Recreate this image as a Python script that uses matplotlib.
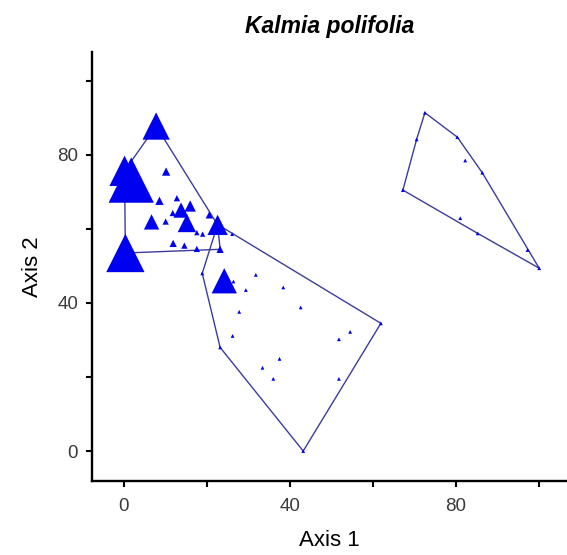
import numpy as np
import matplotlib.pyplot as plt

plt.rcParams['font.family'] = ['Liberation Sans', 'DejaVu Sans']

# Group 1 (upper left cluster): ordination scores and Kalmia cover
g1_x = [7.8, 0.2, 1.8, 0.4, 10.2, 8.6, 12.8, 11.8, 13.8, 16.0, 15.2,
        6.7, 10.1, 20.6, 22.6, 17.6, 19.0, 11.9, 14.6, 17.6, 23.2]
g1_y = [87.8, 75.7, 73.2, 53.5, 75.5, 67.6, 68.3, 64.3, 65.1, 66.2, 61.6,
        61.9, 62.0, 63.8, 61.1, 59.0, 58.6, 56.1, 55.5, 54.6, 54.5]
g1_cover = [23.5, 26.5, 41.5, 34.5, 4.5, 4.5, 2.5, 2.5, 11.5, 7.5, 14.5,
            11.5, 2.5, 3.5, 16.5, 1.5, 1.5, 3.5, 2.5, 2.5, 3.5]

# Group 2 (middle)
g2_x = [22.6, 26.1, 18.9, 24.2, 26.4, 31.8, 29.4, 38.4, 42.6, 27.8,
        26.2, 23.2, 54.5, 51.8, 61.9, 37.5, 33.4, 36.0, 51.8, 43.2]
g2_y = [61.2, 58.6, 48.0, 46.0, 45.8, 47.6, 43.5, 44.2, 38.8, 37.6,
        31.1, 28.0, 32.2, 30.2, 34.5, 24.9, 22.5, 19.5, 19.5, 0.0]
g2_cover = [0, 0, 0, 21.5, 0, 0, 0, 0, 0, 0,
            0, 0, 0, 0, 0, 0, 0, 0, 0, 0]

# Group 3 (right)
g3_x = [72.5, 70.5, 80.3, 82.2, 86.3, 67.2, 81.0, 85.2, 97.2, 100.0]
g3_y = [91.4, 84.2, 84.8, 78.5, 75.2, 70.5, 62.9, 58.8, 54.3, 49.4]
g3_cover = [0, 0, 0, 0, 0, 0, 0, 0, 0, 0]

groups = [(g1_x, g1_y, g1_cover), (g2_x, g2_y, g2_cover), (g3_x, g3_y, g3_cover)]


def convex_hull(xs, ys):
    pts = sorted(set(zip(xs, ys)))

    def cross(o, a, b):
        return (a[0] - o[0]) * (b[1] - o[1]) - (a[1] - o[1]) * (b[0] - o[0])

    lower, upper = [], []
    for p in pts:
        while len(lower) >= 2 and cross(lower[-2], lower[-1], p) <= 0:
            lower.pop()
        lower.append(p)
    for p in reversed(pts):
        while len(upper) >= 2 and cross(upper[-2], upper[-1], p) <= 0:
            upper.pop()
        upper.append(p)
    hull = lower[:-1] + upper[:-1]
    return hull + [hull[0]]


fig = plt.figure(figsize=(5.67, 5.55), dpi=100)
ax = fig.add_axes([0.1623, 0.1333, 0.8377, 0.773])

# hulls first, markers on top
for xs, ys, cov in groups:
    h = np.array(convex_hull(xs, ys))
    ax.plot(h[:, 0], h[:, 1], color='#3c3c9c', lw=1.0, zorder=2)

for xs, ys, cov in groups:
    w_px = 3.8 + np.array(cov)           # marker width in pixels
    s = (w_px * 0.72) ** 2
    ax.scatter(xs, ys, s=s, marker='^', color='#0000f0', linewidths=0, zorder=3)

ax.set_xlim(-7.63, 106.7)
ax.set_ylim(-8.1, 107.8)

ax.set_xticks([0, 20, 40, 60, 80, 100])
ax.set_xticklabels(['0', '', '40', '', '80', ''])
ax.set_yticks([0, 20, 40, 60, 80, 100])
ax.set_yticklabels(['0', '', '40', '', '80', ''])

for side in ['top', 'right']:
    ax.spines[side].set_visible(False)
for side in ['left', 'bottom']:
    ax.spines[side].set_linewidth(1.7)

ax.tick_params(direction='out', length=4, width=1.5, labelsize=13.5,
               labelcolor='#3a3a3a', pad=6)
ax.tick_params(axis='x', pad=8)

ax.set_xlabel('Axis 1', fontsize=16, labelpad=11)
ax.set_ylabel('Axis 2', fontsize=16, labelpad=10)
ax.set_title('Kalmia polifolia', fontsize=16.5, fontweight='bold',
             fontstyle='italic', pad=14)

plt.savefig('out.png', dpi=100)
